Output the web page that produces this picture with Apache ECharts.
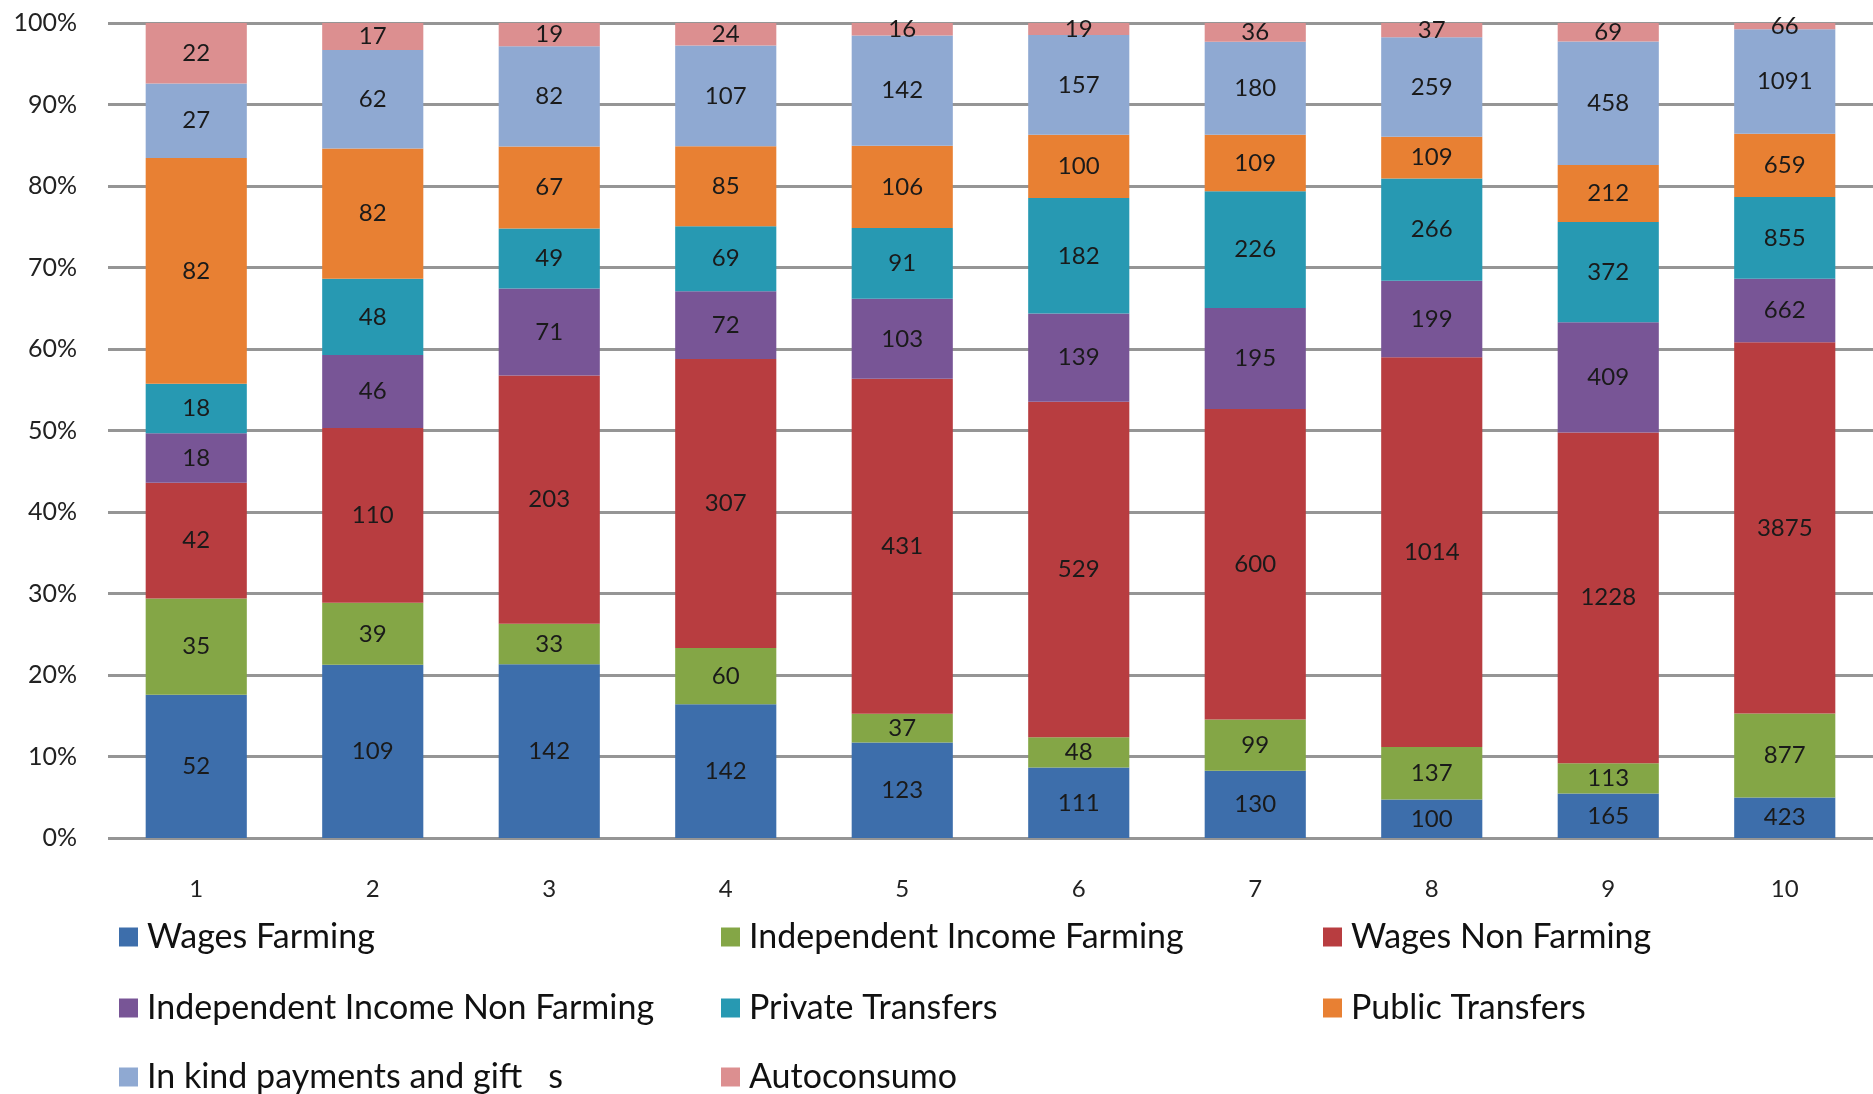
<!DOCTYPE html>
<html>
<head>
<meta charset="utf-8">
<script src="https://cdn.jsdelivr.net/npm/echarts@6/dist/echarts.min.js"></script>
<style>html,body{margin:0;padding:0;background:#fff}#c{width:1873px;height:1094px}</style>
</head>
<body>
<div id="c"></div>
<script>
const categories = ['1','2','3','4','5','6','7','8','9','10'];
const wagesFarming = [52,109,142,142,123,111,130,100,165,423];
const indepFarming = [35,39,33,60,37,48,99,137,113,877];
const wagesNonFarming = [42,110,203,307,431,529,600,1014,1228,3875];
const indepNonFarming = [18,46,71,72,103,139,195,199,409,662];
const privateTransfers = [18,48,49,69,91,182,226,266,372,855];
const publicTransfers = [82,82,67,85,106,100,109,109,212,659];
const inKind = [27,62,82,107,142,157,180,259,458,1091];
const autoconsumo = [22,17,19,24,16,19,36,37,69,66];
const yTicks = ['0%','10%','20%','30%','40%','50%','60%','70%','80%','90%','100%'];

const seriesDefs = [
  ['Wages Farming', wagesFarming, '#3D6EAB'],
  ['Independent Income Farming', indepFarming, '#84A646'],
  ['Wages Non Farming', wagesNonFarming, '#B83D40'],
  ['Independent Income Non Farming', indepNonFarming, '#785596'],
  ['Private Transfers', privateTransfers, '#2799B2'],
  ['Public Transfers', publicTransfers, '#E88033'],
  ['In kind payments and gift   s', inKind, '#8FA9D2'],
  ['Autoconsumo', autoconsumo, '#DC8F90']
];
const totals = categories.map((c,i)=>seriesDefs.reduce((s,d)=>s+d[1][i],0));
const FONT = 'Lato, "Open Sans", sans-serif';

const series = seriesDefs.map(d=>({
  name: d[0], type:'bar', stack:'all', barCategoryGap:'42.7%',
  itemStyle:{color:d[2]},
  label:{show:true, position:'inside', color:'#1a1a1a', fontSize:24, fontFamily:FONT,
    formatter: p => String(d[1][p.dataIndex])},
  data: d[1].map((v,i)=>v/totals[i]*100)
}));

const colLeft = [114, 716, 1318];
const rowTop = [914, 985, 1054];
const legends = seriesDefs.map((d,i)=>({
  orient:'horizontal', icon:'rect', itemWidth:19, itemHeight:19,
  left: colLeft[i%3], top: rowTop[Math.floor(i/3)],
  data:[d[0]],
  textStyle:{fontSize:34, lineHeight:36, color:'#111', fontFamily:FONT, padding:[0,0,0,4]}
}));

const chart = echarts.init(document.getElementById('c'));
chart.setOption({
  animation:false,
  backgroundColor:'#fff',
  grid:{left:108, top:23, width:1772, height:815, containLabel:false},
  xAxis:{type:'category', data:categories, axisTick:{show:false}, axisLine:{show:false},
    axisLabel:{fontSize:24, color:'#222', margin:39, fontFamily:FONT}},
  yAxis:{type:'value', min:0, max:100, interval:10,
    axisLine:{show:false}, axisTick:{show:false},
    axisLabel:{fontSize:25, color:'#222', margin:31, fontFamily:FONT, formatter:(v)=>yTicks[Math.round(v/10)]},
    splitLine:{lineStyle:{color:'#959595', width:3}}},
  legend: legends,
  series: series
});
</script>
</body>
</html>
